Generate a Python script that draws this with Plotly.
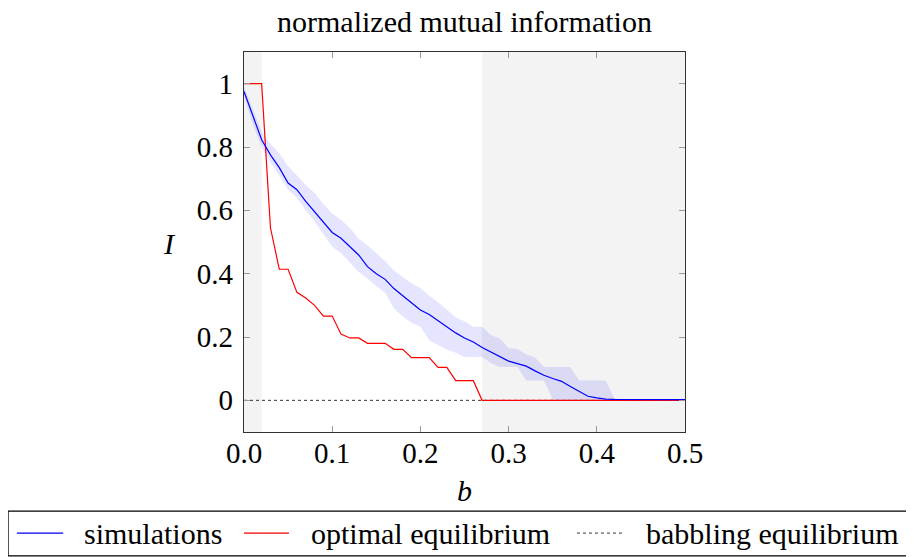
import plotly.graph_objects as go

# bias values (step 0.01)
b = [0.00, 0.01, 0.02, 0.03, 0.04, 0.05, 0.06, 0.07, 0.08, 0.09,
     0.10, 0.11, 0.12, 0.13, 0.14, 0.15, 0.16, 0.17, 0.18, 0.19,
     0.20, 0.21, 0.22, 0.23, 0.24, 0.25, 0.26, 0.27, 0.28, 0.29,
     0.30, 0.31, 0.32, 0.33, 0.34, 0.35, 0.36, 0.37, 0.38, 0.39,
     0.40, 0.41, 0.42, 0.43, 0.44, 0.45, 0.46, 0.47, 0.48, 0.49, 0.50]

# mean of simulations
sim_mean = [0.975, 0.90, 0.823, 0.775, 0.735, 0.686, 0.665, 0.628, 0.595, 0.562,
            0.530, 0.512, 0.485, 0.459, 0.422, 0.400, 0.382, 0.353, 0.330, 0.308,
            0.285, 0.271, 0.251, 0.233, 0.213, 0.197, 0.184, 0.167, 0.153, 0.139,
            0.124, 0.116, 0.108, 0.093, 0.079, 0.069, 0.060, 0.044, 0.028, 0.013,
            0.008, 0.004, 0.003, 0.003, 0.002, 0.002, 0.002, 0.002, 0.002, 0.002, 0.002]

# spread of simulations (upper / lower edge of band)
sim_upper = [0.99, 0.92, 0.85, 0.81, 0.78, 0.74, 0.71, 0.68, 0.655, 0.62,
             0.59, 0.57, 0.545, 0.51, 0.49, 0.465, 0.44, 0.41, 0.39, 0.37,
             0.355, 0.33, 0.31, 0.285, 0.262, 0.25, 0.232, 0.232, 0.206, 0.195,
             0.165, 0.162, 0.145, 0.135, 0.105, 0.105, 0.105, 0.105, 0.063, 0.063,
             0.063, 0.063, 0.005, 0.004, 0.003, 0.003, 0.003, 0.003, 0.003, 0.003, 0.003]
sim_lower = [0.96, 0.87, 0.80, 0.75, 0.71, 0.665, 0.64, 0.60, 0.565, 0.525,
             0.485, 0.465, 0.435, 0.405, 0.385, 0.36, 0.34, 0.29, 0.265, 0.245,
             0.232, 0.19, 0.175, 0.16, 0.15, 0.137, 0.137, 0.137, 0.118, 0.105,
             0.105, 0.105, 0.063, 0.063, 0.063, 0.003, 0.0, 0.0, 0.0, 0.0,
             0.0, 0.0, 0.0, 0.0, 0.0, 0.0, 0.0, 0.0, 0.0, 0.0, 0.0]

optimal = [1.0, 1.0, 1.0, 0.545, 0.414, 0.414, 0.341, 0.323, 0.300, 0.266,
           0.266, 0.209, 0.197, 0.197, 0.180, 0.180, 0.180, 0.161, 0.161, 0.135,
           0.135, 0.135, 0.104, 0.104, 0.062, 0.062, 0.062, 0.0, 0.0, 0.0,
           0.0, 0.0, 0.0, 0.0, 0.0, 0.0, 0.0, 0.0, 0.0, 0.0,
           0.0, 0.0, 0.0, 0.0, 0.0, 0.0, 0.0, 0.0, 0.0, 0.0, 0.0]

babbling_x = [0.0, 0.5]
babbling_y = [0.0, 0.0]

# shaded b intervals
shade = [(0.0, 0.02), (0.27, 0.5)]

FONT = "Liberation Serif, Times New Roman, DejaVu Serif, serif"

data = []
data.append(go.Scatter(x=b, y=sim_upper, mode='lines', line=dict(width=0),
                       showlegend=False, hoverinfo='skip'))
data.append(go.Scatter(x=b, y=sim_lower, mode='lines', line=dict(width=0),
                       fill='tonexty', fillcolor='rgba(0,0,255,0.1)',
                       showlegend=False, hoverinfo='skip'))
data.append(go.Scatter(x=babbling_x, y=babbling_y, mode='lines', name='babbling equilibrium',
                       line=dict(color='black', width=0.8, dash='dot'), showlegend=False))
data.append(go.Scatter(x=b, y=optimal, mode='lines', name='optimal equilibrium',
                       line=dict(color='red', width=1.2), showlegend=False))
data.append(go.Scatter(x=b, y=sim_mean, mode='lines', name='simulations',
                       line=dict(color='blue', width=1.2), showlegend=False))

shapes = []
for x0, x1 in shade:
    shapes.append(dict(type='rect', xref='x', yref='paper', x0=x0, x1=x1, y0=0, y1=1,
                       fillcolor='#f3f3f3', line=dict(width=0), layer='below'))

# legend drawn by hand below the plot (plotly would wrap it into rows)
leg_y = -0.266
shapes.append(dict(type='rect', xref='paper', yref='paper', x0=-0.535, x1=1.51,
                   y0=-0.326, y1=-0.208, line=dict(color='black', width=1.2)))
leg_items = [('simulations', 'blue', 'solid', -0.515, -0.41, -0.367),
             ('optimal equilibrium', 'red', 'solid', 0.0, 0.102, 0.147),
             ('babbling equilibrium', 'black', 'dot', 0.755, 0.862, 0.907)]
annotations = []
for name, col, dash, lx0, lx1, tx in leg_items:
    shapes.append(dict(type='line', xref='paper', yref='paper', x0=lx0, x1=lx1,
                       y0=leg_y, y1=leg_y,
                       line=dict(color=col, width=1.2 if dash == 'solid' else 0.8, dash=dash)))
    annotations.append(dict(text=name, xref='paper', yref='paper', x=tx, y=leg_y,
                            xanchor='left', yanchor='middle', showarrow=False,
                            font=dict(family=FONT, size=30)))

# title as annotation just above the frame
annotations.append(dict(text='normalized mutual information', xref='paper', yref='paper',
                        x=0.5, y=1.032, xanchor='center', yanchor='bottom', showarrow=False,
                        font=dict(family=FONT, size=30)))
annotations.append(dict(text='<i>b</i>', xref='paper', yref='paper', x=0.5, y=-0.153,
                        xanchor='center', yanchor='middle', showarrow=False,
                        font=dict(family=FONT, size=30)))
annotations.append(dict(text='<i>I</i>', xref='paper', yref='paper', x=-0.168, y=0.497,
                        xanchor='center', yanchor='middle', showarrow=False,
                        font=dict(family=FONT, size=30)))

axis_style = dict(showline=True, linecolor='#333', linewidth=1.2, mirror='allticks',
                  ticks='inside', ticklen=6, tickcolor='#999', tickwidth=1,
                  showgrid=False, zeroline=False,
                  tickfont=dict(family=FONT, size=29, color='black'))

layout = go.Layout(
    width=906, height=549,
    margin=dict(l=236, r=229, t=44, b=125, autoexpand=False),
    plot_bgcolor='white', paper_bgcolor='white',
    font=dict(family=FONT, color='black'),
    showlegend=False,
    xaxis=dict(range=[0, 0.5], tickvals=[0, 0.1, 0.2, 0.3, 0.4, 0.5],
               ticktext=['0.0', '0.1', '0.2', '0.3', '0.4', '0.5'],
               ticklabelstandoff=-5, **axis_style),
    yaxis=dict(range=[-0.1, 1.1], tickvals=[0, 0.2, 0.4, 0.6, 0.8, 1],
               ticktext=['0', '0.2', '0.4', '0.6', '0.8', '1'],
               ticklabelstandoff=4, **axis_style),
    shapes=shapes,
    annotations=annotations,
)

fig = go.Figure(data=data, layout=layout)
fig.write_html("out.html")
